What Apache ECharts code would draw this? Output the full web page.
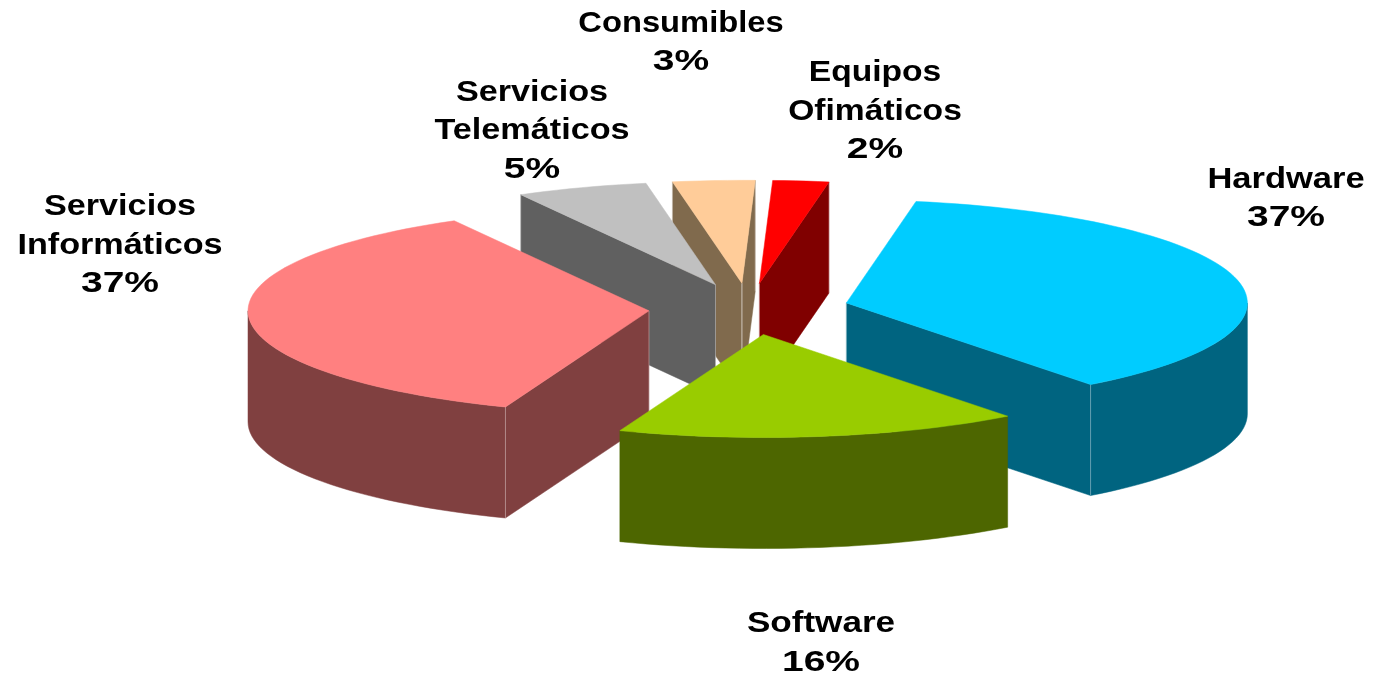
<!DOCTYPE html>
<html>
<head>
<meta charset="utf-8">
<style>
  html, body { margin: 0; padding: 0; background: #ffffff; }
  #chart { width: 1379px; height: 675px; }
</style>
<script src="https://cdn.jsdelivr.net/npm/echarts@6/dist/echarts.min.js"></script>
</head>
<body>
<div id="chart"></div>
<script>
// datos
const categories = ['Hardware', 'Software', 'Servicios\nInformáticos', 'Servicios\nTelemáticos', 'Consumibles', 'Equipos\nOfimáticos'];
const values = [36.8, 16.25, 36.1, 5.3, 3.3, 2.25];
const percentLabels = ['37%', '16%', '37%', '5%', '3%', '2%'];

// estilo de cada sector
const topColors = ['#00CCFF', '#99CC00', '#FF8080', '#C0C0C0', '#FFCC99', '#FF0000'];
const sideColors = ['#006480', '#4D6600', '#804040', '#606060', '#806A4D', '#800000'];
const paintOrder = [3, 5, 4, 2, 1, 0]; // de atras hacia delante, por sector
const labelPos = [[1286, 198.5], [821, 643], [120, 245.5], [532, 131], [681, 42.5], [875, 111.5]];
const labelScale = [1.15, 1.17, 1.14, 1.14, 1.09, 1.12];

// proyeccion del pastel
const centerX = 749;
const centerY = 309;
const radiusX = 401;
const radiusY = 103;
const depth = 111;
const explode = 0.25;
const startAngle = 80;
const lineHeight = 38.5;

const total = values.reduce(function (a, b) { return a + b; }, 0);
const rad = Math.PI / 180;

function sliceAngles(index) {
  let a0 = startAngle;
  for (let i = 0; i < index; i++) {
    a0 -= values[i] / total * 360;
  }
  return [a0, a0 - values[index] / total * 360];
}

function arcPoints(apex, from, to, dy) {
  const pts = [];
  const steps = Math.max(2, Math.ceil(Math.abs(from - to) / 2));
  for (let i = 0; i <= steps; i++) {
    const a = (from + (to - from) * i / steps) * rad;
    pts.push([apex[0] + radiusX * Math.cos(a), apex[1] - radiusY * Math.sin(a) + dy]);
  }
  return pts;
}

function labelText(text, x, y, scale) {
  return {
    type: 'text',
    x: x,
    y: y,
    scaleX: scale,
    style: {
      text: text,
      fontFamily: '"Liberation Sans", Arial, sans-serif',
      fontWeight: 'bold',
      fontSize: 30,
      lineHeight: lineHeight,
      fill: '#000000',
      align: 'center',
      verticalAlign: 'top'
    },
    z2: 200
  };
}

function renderSlice(params, api) {
  const i = params.dataIndex;
  const ang = sliceAngles(i);
  const a0 = ang[0];
  const a1 = ang[1];
  const mid = (a0 + a1) / 2 * rad;
  const apex = [
    centerX + explode * radiusX * Math.cos(mid),
    centerY - explode * radiusY * Math.sin(mid)
  ];
  const z = paintOrder[i] * 10;
  const side = sideColors[i];
  const children = [];

  function poly(points, fill, z2) {
    children.push({
      type: 'polygon',
      shape: { points: points },
      style: { fill: fill, stroke: fill, lineWidth: 0.5 },
      z2: z2
    });
  }
  function seam(p) {
    children.push({
      type: 'line',
      shape: { x1: p[0], y1: p[1], x2: p[0], y2: p[1] + depth },
      style: { stroke: 'rgba(255,255,255,0.35)', lineWidth: 1 },
      z2: z + 4
    });
  }
  function cutFace(angle) {
    const rim = arcPoints(apex, angle, angle, 0)[0];
    poly([apex, rim, [rim[0], rim[1] + depth], [apex[0], apex[1] + depth]], side, z + 1);
    seam(rim);
    seam(apex);
  }

  // caras de corte visibles
  if (Math.cos(a0 * rad) < 0) cutFace(a0);
  if (Math.cos(a1 * rad) > 0) cutFace(a1);

  // pared exterior, solo la parte delantera del arco
  const wallFrom = Math.min(a0, 0);
  const wallTo = Math.max(a1, -180);
  if (wallFrom > wallTo) {
    const upper = arcPoints(apex, wallFrom, wallTo, 0);
    const lower = arcPoints(apex, wallFrom, wallTo, depth).reverse();
    poly(upper.concat(lower), side, z + 2);
  }

  // tapa
  poly([apex].concat(arcPoints(apex, a0, a1, 0)), topColors[i], z + 5);

  // etiqueta: nombre arriba, porcentaje mas ancho en la ultima linea
  const lines = categories[i].split('\n').length;
  const blockTop = labelPos[i][1] - (lines + 1) * lineHeight / 2;
  children.push(labelText(categories[i], labelPos[i][0], blockTop, labelScale[i]));
  children.push(labelText(percentLabels[i], labelPos[i][0], blockTop + lines * lineHeight, 1.3));

  return { type: 'group', children: children };
}

const chart = echarts.init(document.getElementById('chart'), null, { width: 1379, height: 675 });
chart.setOption({
  backgroundColor: '#ffffff',
  animation: false,
  tooltip: { show: false },
  series: [
    {
      type: 'custom',
      coordinateSystem: 'none',
      clip: false,
      data: values.map(function (v) { return [v]; }),
      renderItem: renderSlice
    }
  ]
});
</script>
</body>
</html>
